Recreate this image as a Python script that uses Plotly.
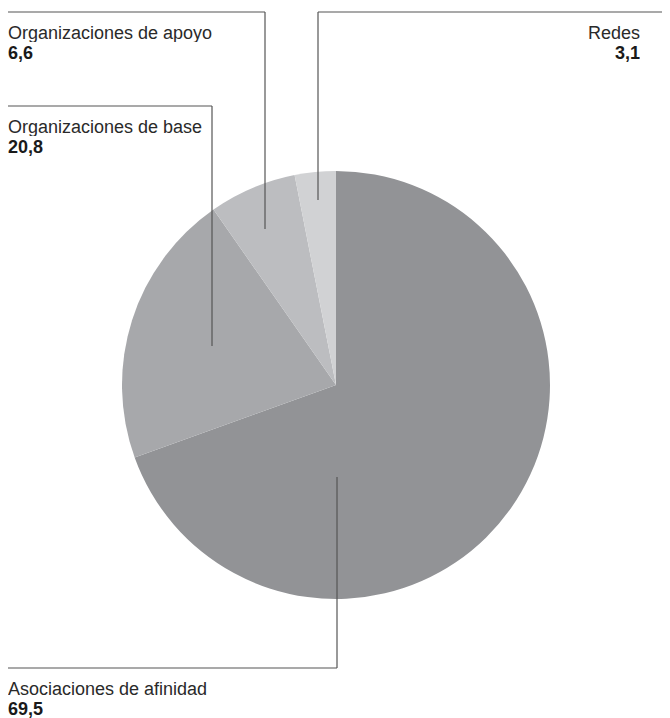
import plotly.graph_objects as go

categories = ["Asociaciones de afinidad", "Organizaciones de base", "Organizaciones de apoyo", "Redes"]
values = [69.5, 20.8, 6.6, 3.1]
value_labels = ["69,5", "20,8", "6,6", "3,1"]
colors = ["#929396", "#a7a8ab", "#bcbdc0", "#d1d2d4"]

OFF = 8  # page body margin
W, H = 670 - OFF, 718 - OFF
def px(x):
    return (x - OFF) / W
def py(y):
    return 1 - (y - OFF) / H

cx, cy, r = 336, 385, 214

fig = go.Figure(go.Pie(
    labels=categories, values=values, sort=False, direction="clockwise", rotation=0,
    marker=dict(colors=colors, line=dict(width=0)), textinfo="none", hoverinfo="label+value",
    showlegend=False,
    domain=dict(x=[px(cx - r), px(cx + r)], y=[py(cy + r), py(cy - r)]),
))

line_col = "#555555"
# leader lines: (vertical x, horizontal y, inner end y, horizontal from x, to x)
leaders = [
    (337, 668, 477, 5, 337),
    (212, 106, 346, 5, 212),
    (265, 12, 229, 5, 265),
    (318, 12, 200, 318, 680),
]
shapes = []
for vx, hy, ey, hx0, hx1 in leaders:
    shapes.append(dict(type="line", xref="paper", yref="paper", x0=px(vx), x1=px(vx), y0=py(hy), y1=py(ey),
                       line=dict(color=line_col, width=1.2)))
    shapes.append(dict(type="line", xref="paper", yref="paper", x0=px(hx0), x1=px(hx1), y0=py(hy), y1=py(hy),
                       line=dict(color=line_col, width=1.2)))

name_font = dict(family="Arial, Liberation Sans", size=18, color="#2a2a2a")
val_font = dict(family="Arial, Liberation Sans", size=18, color="#1a1a1a")
# (x, name baseline y, anchor)
label_pos = [
    (7, 695, "left"),
    (7, 133, "left"),
    (7, 39, "left"),
    (641, 39, "right"),
]
annotations = []
for (x, yb, anc), cat, vl in zip(label_pos, categories, value_labels):
    annotations.append(dict(xref="paper", yref="paper", x=px(x), y=py(yb - 6), xanchor=anc, yanchor="middle",
                            text=cat, showarrow=False, align=anc, font=name_font, height=18, borderpad=0))
    annotations.append(dict(xref="paper", yref="paper", x=px(x), y=py(yb + 19.5 - 5.5), xanchor=anc, yanchor="middle",
                            text=f"<b>{vl}</b>", showarrow=False, align=anc, font=val_font, height=18, borderpad=0))

fig.update_layout(width=W, height=H, margin=dict(l=0, r=0, t=0, b=0), paper_bgcolor="white",
                  plot_bgcolor="white", shapes=shapes, annotations=annotations)
fig.write_html("out.html")
